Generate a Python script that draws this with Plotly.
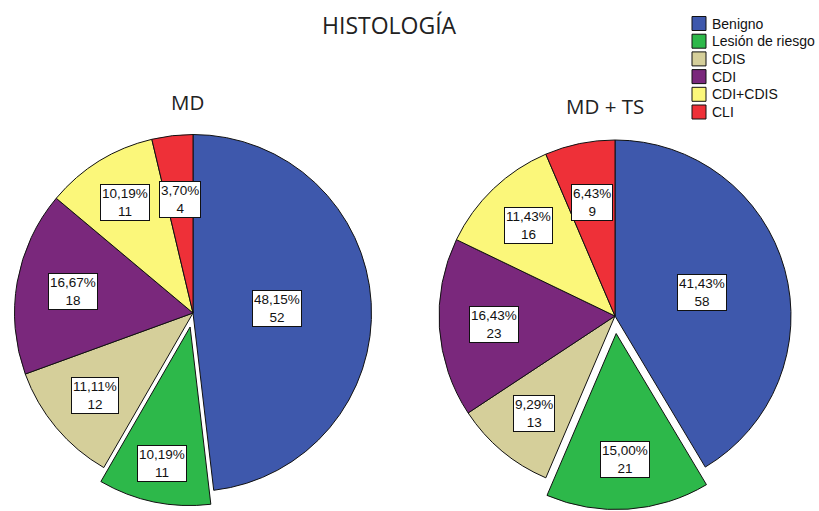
import math
import plotly.graph_objects as go

# Histology categories and counts for each group
categories = ["Benigno", "Lesión de riesgo", "CDIS", "CDI", "CDI+CDIS", "CLI"]
counts_md = [52, 11, 12, 18, 11, 4]
counts_md_ts = [58, 21, 13, 23, 16, 9]
group_titles = ["MD", "MD + TS"]
chart_title = "HISTOLOGÍA"

colors = ["#3E58AC", "#2DB84A", "#D5CF9A", "#7A287C", "#FBF77A", "#EE3038"]
exploded = "Lesión de riesgo"

W, H = 819, 511
LABEL_FONT = "Liberation Sans, Arial"
TITLE_FONT = "Open Sans"

# pie centres / radii in px, pull of the exploded slice, and radial position
# of the value boxes (fraction of the radius)
pies = [
    dict(counts=counts_md, cx=193, cy=313, r=178.5, pull=0.08,
         frac=[0.47, 0.78, 0.72, 0.68, 0.73, 0.64]),
    dict(counts=counts_md_ts, cx=615, cy=316, r=176, pull=0.10,
         frac=[0.51, 0.72, 0.72, 0.69, 0.71, 0.66]),
]


def px2paper(x, y):
    return x / W, 1 - y / H


fig = go.Figure()
annotations = []
shapes = []

for k, p in enumerate(pies):
    counts = p["counts"]
    cx, cy, r = p["cx"], p["cy"], p["r"]
    pulls = [p["pull"] if c == exploded else 0 for c in categories]
    half = r * (1 + max(pulls))
    fig.add_trace(go.Pie(
        labels=categories,
        values=counts,
        sort=False,
        direction="clockwise",
        rotation=0,
        pull=pulls,
        marker=dict(colors=colors, line=dict(color="#111111", width=1)),
        textinfo="none",
        hoverinfo="skip",
        domain=dict(x=[(cx - half) / W, (cx + half) / W],
                    y=[1 - (cy + half) / H, 1 - (cy - half) / H]),
        showlegend=False,
    ))

    # boxed "percentage / count" label inside every slice
    total = sum(counts)
    cum = 0
    for i, v in enumerate(counts):
        theta = 2 * math.pi * (cum + v / 2) / total
        cum += v
        d = (p["frac"][i] + pulls[i]) * r
        bx = cx + d * math.sin(theta)
        by = cy - d * math.cos(theta)
        pct = f"{100 * v / total:.2f}".replace(".", ",") + "%"
        ax, ay = px2paper(bx, by)
        annotations.append(dict(
            x=ax, y=ay, xref="paper", yref="paper", text=f"{pct}<br>{v}",
            showarrow=False, xanchor="center", yanchor="middle", align="center",
            font=dict(family=LABEL_FONT, size=13.5, color="#111111"),
            bgcolor="white", bordercolor="#111111", borderwidth=1, borderpad=1,
        ))

# chart title and group titles
tx, ty = px2paper(389, 25)
annotations.append(dict(
    x=tx, y=ty, xref="paper", yref="paper", text=chart_title,
    showarrow=False, xanchor="center", yanchor="middle",
    font=dict(family=TITLE_FONT, size=23, color="#222222"),
))
for title, gx, gy in zip(group_titles, [187, 605], [102, 106]):
    ax, ay = px2paper(gx, gy)
    annotations.append(dict(
        x=ax, y=ay, xref="paper", yref="paper", text=title,
        showarrow=False, xanchor="center", yanchor="middle",
        font=dict(family=TITLE_FONT, size=20.5, color="#222222"),
    ))

# legend: colour squares with category names
LEG_X, LEG_Y0, LEG_STEP, LEG_SQ = 692, 23.5, 17.7, 14
for i, (cat, col) in enumerate(zip(categories, colors)):
    cyl = LEG_Y0 + i * LEG_STEP
    x0, y0 = px2paper(LEG_X, cyl + LEG_SQ / 2)
    x1, y1 = px2paper(LEG_X + LEG_SQ, cyl - LEG_SQ / 2)
    shapes.append(dict(type="rect", xref="paper", yref="paper",
                       x0=x0, y0=y0, x1=x1, y1=y1,
                       fillcolor=col, line=dict(color="#111111", width=1)))
    ax, ay = px2paper(LEG_X + LEG_SQ + 4, cyl)
    annotations.append(dict(
        x=ax, y=ay, xref="paper", yref="paper", text=cat,
        showarrow=False, xanchor="left", yanchor="middle",
        font=dict(family=LABEL_FONT, size=14, color="#111111"),
    ))

fig.update_layout(
    width=W, height=H,
    margin=dict(l=0, r=0, t=0, b=0),
    paper_bgcolor="white", plot_bgcolor="white",
    annotations=annotations,
    shapes=shapes,
    showlegend=False,
)

fig.write_html("out.html")
